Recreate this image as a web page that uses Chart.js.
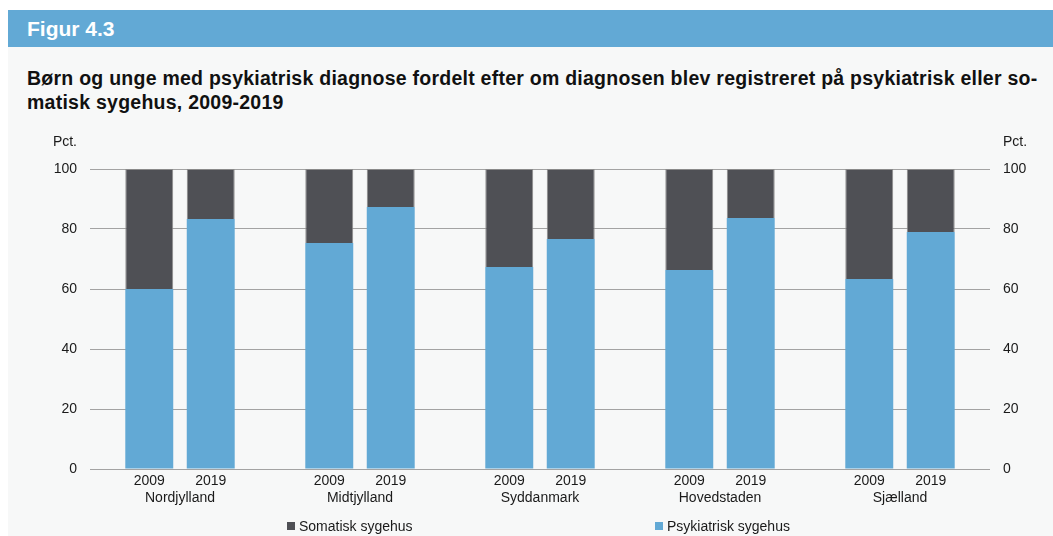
<!DOCTYPE html>
<html>
<head>
<meta charset="utf-8">
<script src="https://cdn.jsdelivr.net/npm/chart.js@4"></script>
<style>
  body { margin: 0; background: #fff; font-family: 'Liberation Sans', Arial, sans-serif; }
  .frame { position: absolute; left: 8px; top: 10px; width: 1045px; height: 526px; background: #f7f8f8; }
  .head { height: 37px; background: #62a9d5; color: #fff; font-weight: bold; font-size: 21px; line-height: 37px; padding-left: 19px; }
  .title { position: absolute; left: 19px; top: 56px; font-weight: bold; font-size: 19.5px; letter-spacing: 0.25px; line-height: 24px; color: #111; white-space: nowrap; }
  .wrap { position: absolute; left: 0; top: 125px; width: 1053px; height: 411px; }
  .legend { position: absolute; top: 517px; font-size: 14px; line-height: 18px; color: #1a1a1a; white-space: nowrap; }
  .legend i { display: inline-block; width: 8px; height: 8px; margin-right: 4px; vertical-align: 1px; }
</style>
</head>
<body>
<div class="frame">
  <div class="head">Figur 4.3</div>
  <div class="title">Børn og unge med psykiatrisk diagnose fordelt efter om diagnosen blev registreret på psykiatrisk eller so-<br>matisk sygehus, 2009-2019</div>
</div>
<div class="wrap"><canvas id="chart"></canvas></div>
<div class="legend" style="left:287px"><i style="background:#4f5055"></i>Somatisk sygehus</div>
<div class="legend" style="left:655px"><i style="background:#62a9d5"></i>Psykiatrisk sygehus</div>
<script>
// Regions and years
const regions = ['Nordjylland', 'Midtjylland', 'Syddanmark', 'Hovedstaden', 'Sjælland'];
const years = ['2009', '2019'];

// Share of diagnoses (pct.)
const psyk2009 = [60, 75.3, 67.3, 66.3, 63.3];
const psyk2019 = [83.3, 87.3, 76.7, 83.7, 79];
const soma2009 = [40, 24.7, 32.7, 33.7, 36.7];
const soma2019 = [16.7, 12.7, 23.3, 16.3, 21];

const yTicks = [0, 20, 40, 60, 80, 100];

const blue = '#62a9d5';
const dark = '#4f5055';
const catPct = 0.683;

Chart.defaults.font.family = "'Liberation Sans', Arial, sans-serif";
Chart.defaults.font.size = 14;
Chart.defaults.color = '#1a1a1a';

// Year label positions under each bar (left / right stack inside each category)
const yearTickPos = [];
regions.forEach((r, i) => {
    yearTickPos.push(i - catPct / 4, i + catPct / 4);
});

// "Pct." above both value axes
const pctLabels = {
    id: 'pctLabels',
    afterDraw(chart) {
        const ctx = chart.ctx;
        const top = chart.chartArea.top - 27;
        ctx.save();
        ctx.font = "14px 'Liberation Sans', Arial, sans-serif";
        ctx.fillStyle = '#1a1a1a';
        ctx.textBaseline = 'middle';
        ctx.textAlign = 'right';
        ctx.fillText('Pct.', chart.scales.y.right - 13, top);
        ctx.textAlign = 'left';
        ctx.fillText('Pct.', chart.scales.y2.left + 13, top);
        ctx.restore();
    }
};

const ctx = document.getElementById('chart').getContext('2d');
new Chart(ctx, {
    type: 'bar',
    data: {
        labels: regions,
        datasets: [
            { label: 'Psykiatrisk sygehus', data: psyk2009, stack: '2009', backgroundColor: blue },
            { label: 'Somatisk sygehus', data: soma2009, stack: '2009', backgroundColor: dark, borderColor: '#8a8a8a', borderWidth: 1 },
            { label: 'Psykiatrisk sygehus', data: psyk2019, stack: '2019', backgroundColor: blue },
            { label: 'Somatisk sygehus', data: soma2019, stack: '2019', backgroundColor: dark, borderColor: '#8a8a8a', borderWidth: 1 }
        ].map(d => Object.assign(d, { xAxisID: 'x', yAxisID: 'y', categoryPercentage: catPct, barPercentage: 0.78 }))
    },
    options: {
        responsive: true,
        maintainAspectRatio: false,
        animation: false,
        layout: { padding: { top: 44, left: 35, right: 0, bottom: 28 } },
        plugins: {
            tooltip: { enabled: false },
            legend: { display: false }
        },
        scales: {
            x: {
                stacked: true,
                weight: 1,
                grid: { display: false, drawTicks: false },
                border: { display: false },
                ticks: { padding: 0 },
                afterFit: s => { s.height = 18; }
            },
            xYear: {
                type: 'linear',
                position: 'bottom',
                weight: 0,
                offset: false,
                min: -0.5,
                max: 4.5,
                grid: { display: false, drawTicks: false },
                border: { display: false },
                afterBuildTicks: s => { s.ticks = yearTickPos.map(v => ({ value: v })); },
                ticks: { padding: 4, autoSkip: false, maxRotation: 0, callback: (v, i) => years[i % 2] },
                afterFit: s => { s.height = 21; }
            },
            y: {
                stacked: true,
                min: 0,
                max: 100,
                afterBuildTicks: s => { s.ticks = yTicks.map(v => ({ value: v })); },
                grid: { color: '#a3a3a3', drawTicks: false },
                border: { display: false },
                ticks: { padding: 13 },
                afterFit: s => { s.width = 55; }
            },
            y2: {
                position: 'right',
                min: 0,
                max: 100,
                afterBuildTicks: s => { s.ticks = yTicks.map(v => ({ value: v })); },
                grid: { display: false, drawTicks: false },
                border: { display: false },
                ticks: { padding: 13 },
                afterFit: s => { s.width = 63; }
            }
        }
    },
    plugins: [pctLabels]
});
</script>
</body>
</html>
